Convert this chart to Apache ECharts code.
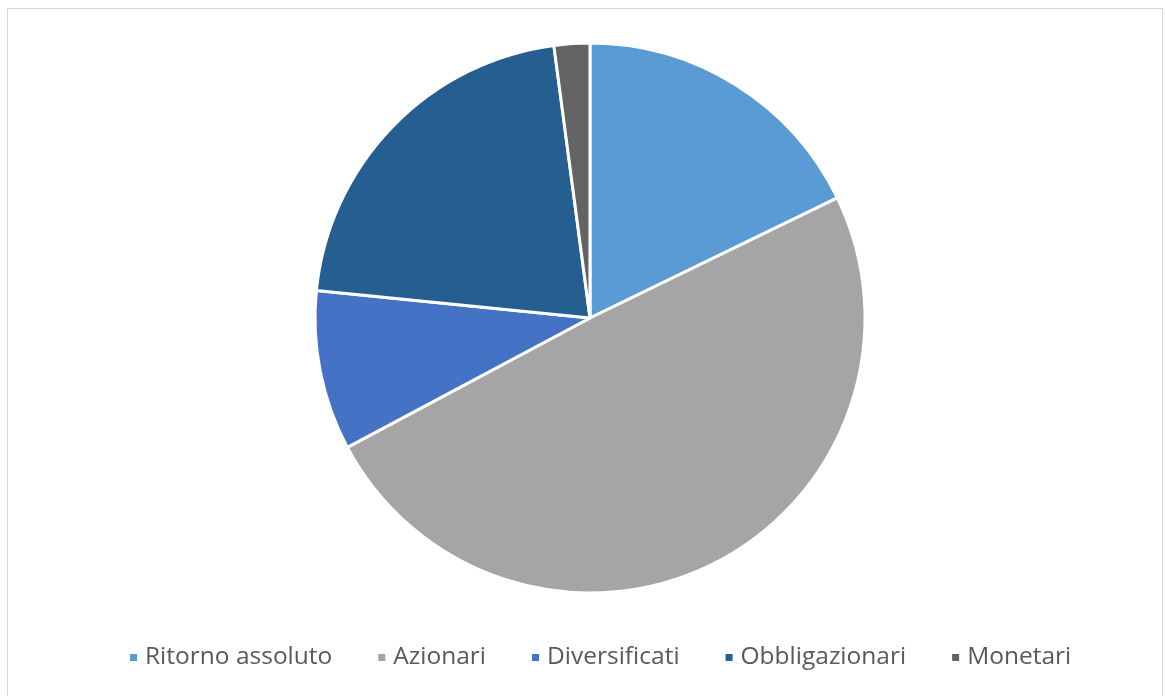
<!DOCTYPE html>
<html><head><meta charset="utf-8">
<script src="https://cdn.jsdelivr.net/npm/echarts@6/dist/echarts.min.js"></script>
<style>
html,body{margin:0;padding:0;background:#fff;}
#frame{position:absolute;left:7px;top:8px;width:1156px;height:700px;border:1px solid #d9d9d9;box-sizing:border-box;}
#c{position:absolute;left:0;top:0;width:1165px;height:696px;}
</style></head>
<body>
<div id="frame"></div>
<div id="c"></div>
<script>
const categories = ["Ritorno assoluto", "Azionari", "Diversificati", "Obbligazionari", "Monetari"];
const values = [17.8, 49.4, 9.4, 21.3, 2.1];
const colors = ["#5B9BD5", "#A5A5A5", "#4472C4", "#255E91", "#636363"];

const chart = echarts.init(document.getElementById('c'));
chart.setOption({
  animation: false,
  color: colors,
  legend: {
    top: 640,
    left: 123,
    itemWidth: 9,
    itemHeight: 9,
    itemGap: 44,
    icon: 'rect',
    textStyle: { fontFamily: 'Open Sans', fontSize: 24.5, color: '#595959', padding: [0,0,0,2] },
    data: categories
  },
  series: [{
    type: 'pie',
    center: [590, 318],
    radius: [0, 275],
    startAngle: 90,
    clockwise: true,
    label: { show: false },
    labelLine: { show: false },
    itemStyle: { borderColor: '#ffffff', borderWidth: 3 },
    emphasis: { disabled: true },
    data: categories.map((n, i) => ({ name: n, value: values[i] }))
  }]
});
</script>
</body></html>
